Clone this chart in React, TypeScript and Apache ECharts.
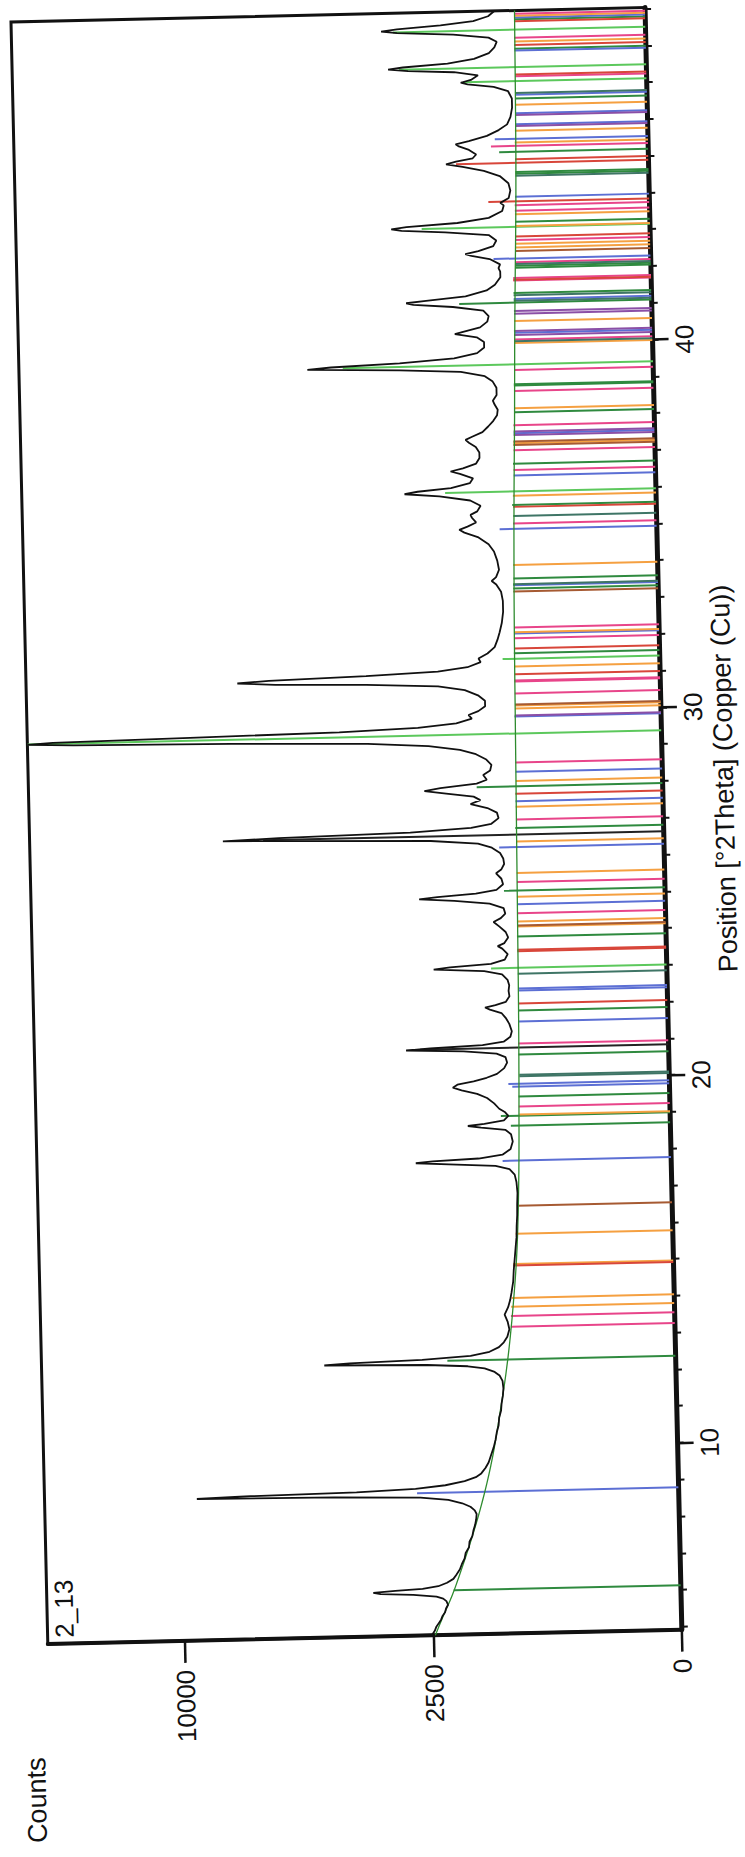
import React, { useEffect, useRef } from "react";
import * as echarts from "echarts";

// Diffractogram 2_13, Cu radiation, square-root intensity scale.
const TWO_THETA_MIN = 4.93;
const TWO_THETA_MAX = 49.04;
const COUNTS_MAX = 16280;

const X_LABELS = [10, 20, 30, 40];
const X_MINOR_TICKS = [5, 6, 7, 8, 9, 10, 11, 12, 13, 14, 15, 16, 17, 18, 19, 20, 21, 22, 23, 24, 25, 26, 27, 28, 29, 30, 31, 32, 33, 34, 35, 36, 37, 38, 39, 40, 41, 42, 43, 44, 45, 46, 47, 48, 49];
const Y_LABELS = [0, 2500, 10000];

// Measured scan: [°2θ, counts]
const SCAN: [number, number][] = [
  [4.93, 2530], [5.05, 2470], [5.15, 2440], [5.25, 2390], [5.35, 2340], [5.45, 2310], [5.55, 2260], [5.65, 2240], [5.75, 2200], [5.85, 2230],
  [5.92, 2290], [5.98, 2420], [6.04, 2900], [6.08, 3650], [6.12, 3830], [6.16, 3300], [6.2, 2700], [6.26, 2380], [6.35, 2210], [6.45, 2090],
  [6.55, 2040], [6.7, 1970], [6.85, 1930], [7.0, 1880], [7.15, 1860], [7.3, 1800], [7.45, 1790], [7.6, 1740], [7.75, 1720], [7.9, 1690],
  [8.05, 1670], [8.2, 1660], [8.3, 1690], [8.4, 1760], [8.5, 1900], [8.6, 2150], [8.68, 2700], [8.74, 4800], [8.78, 9400], [8.82, 7800],
  [8.86, 4200], [8.92, 2800], [9.0, 2200], [9.1, 1850], [9.2, 1660], [9.3, 1570], [9.45, 1500], [9.6, 1450], [9.8, 1410], [10.0, 1370],
  [10.2, 1340], [10.4, 1320], [10.6, 1290], [10.8, 1280], [11.0, 1250], [11.2, 1240], [11.4, 1220], [11.6, 1210], [11.8, 1220], [11.95, 1260],
  [12.05, 1330], [12.15, 1480], [12.22, 1750], [12.28, 2500], [12.33, 5000], [12.37, 4300], [12.42, 2600], [12.5, 1700], [12.6, 1400], [12.72, 1260],
  [12.85, 1190], [13.0, 1140], [13.2, 1110], [13.4, 1130], [13.6, 1170], [13.8, 1120], [14.0, 1090], [14.2, 1070], [14.5, 1045], [14.8, 1035],
  [15.1, 1020], [15.4, 1005], [15.7, 990], [16.0, 985], [16.3, 975], [16.6, 972], [16.9, 965], [17.2, 975], [17.4, 995], [17.55, 1060],
  [17.65, 1250], [17.72, 2000], [17.77, 2640], [17.81, 2300], [17.86, 1500], [17.95, 1150], [18.1, 1040], [18.3, 1010], [18.5, 1030], [18.62, 1100],
  [18.7, 1450], [18.75, 1660], [18.8, 1400], [18.88, 1120], [19.0, 1060], [19.1, 1100], [19.2, 1180], [19.35, 1250], [19.5, 1350], [19.62, 1500],
  [19.72, 1750], [19.8, 1900], [19.88, 1820], [19.96, 1550], [20.05, 1350], [20.15, 1200], [20.3, 1100], [20.45, 1060], [20.6, 1080], [20.7, 1200],
  [20.78, 1700], [20.84, 2790], [20.88, 2300], [20.94, 1400], [21.02, 1100], [21.15, 1010], [21.3, 990], [21.5, 1020], [21.65, 1060], [21.8, 1120],
  [21.9, 1280], [21.96, 1350], [22.02, 1200], [22.1, 1060], [22.25, 1010], [22.4, 1020], [22.55, 1010], [22.7, 1030], [22.85, 1100], [22.95, 1350],
  [23.02, 2200], [23.07, 1900], [23.14, 1250], [23.25, 1060], [23.4, 1020], [23.55, 1090], [23.62, 1150], [23.7, 1060], [23.85, 1010], [24.0, 1040],
  [24.15, 1120], [24.28, 1200], [24.38, 1100], [24.5, 1040], [24.65, 1060], [24.78, 1250], [24.88, 1800], [24.94, 2450], [24.99, 2100], [25.06, 1450],
  [25.15, 1150], [25.3, 1060], [25.45, 1080], [25.6, 1150], [25.7, 1080], [25.85, 1040], [26.0, 1050], [26.15, 1090], [26.3, 1200], [26.42, 1400],
  [26.52, 2200], [26.6, 5500], [26.64, 7870], [26.69, 6000], [26.76, 2600], [26.85, 1500], [26.95, 1200], [27.1, 1100], [27.25, 1120], [27.38, 1250],
  [27.5, 1500], [27.6, 1350], [27.7, 1450], [27.8, 1900], [27.88, 2300], [27.95, 2000], [28.05, 1400], [28.15, 1250], [28.28, 1300], [28.4, 1200],
  [28.55, 1180], [28.7, 1250], [28.85, 1400], [28.98, 1650], [29.1, 2200], [29.2, 3500], [29.28, 7500], [29.34, 14000], [29.38, 16280], [29.42, 15000],
  [29.47, 9000], [29.53, 4200], [29.6, 2400], [29.7, 1700], [29.82, 1450], [29.92, 1500], [30.02, 1350], [30.15, 1250], [30.3, 1250], [30.45, 1350],
  [30.6, 1550], [30.72, 2000], [30.8, 3500], [30.86, 6000], [30.92, 7240], [30.97, 6200], [31.04, 3500], [31.12, 2000], [31.22, 1500], [31.35, 1300],
  [31.45, 1330], [31.58, 1200], [31.75, 1100], [31.95, 1060], [32.15, 1030], [32.4, 1000], [32.7, 980], [33.0, 980], [33.25, 1000], [33.45, 1060],
  [33.55, 1120], [33.65, 1060], [33.85, 1020], [34.1, 1040], [34.35, 1080], [34.55, 1150], [34.75, 1300], [34.88, 1500], [34.96, 1580], [35.04, 1450],
  [35.15, 1320], [35.28, 1380], [35.36, 1400], [35.45, 1300], [35.6, 1250], [35.75, 1400], [35.88, 1900], [35.96, 2560], [36.02, 2300], [36.1, 1700],
  [36.22, 1400], [36.35, 1350], [36.48, 1550], [36.55, 1700], [36.63, 1500], [36.75, 1300], [36.9, 1250], [37.05, 1250], [37.2, 1300], [37.32, 1400],
  [37.4, 1450], [37.48, 1350], [37.6, 1200], [37.75, 1120], [37.9, 1050], [38.05, 1000], [38.2, 990], [38.35, 1030], [38.45, 1050], [38.6, 1000],
  [38.8, 1000], [38.98, 1050], [39.12, 1150], [39.25, 1500], [39.33, 2600], [39.4, 4840], [39.45, 4200], [39.52, 2600], [39.62, 1600], [39.75, 1250],
  [39.9, 1150], [40.05, 1150], [40.18, 1250], [40.28, 1580], [40.34, 1450], [40.45, 1200], [40.6, 1100], [40.75, 1080], [40.9, 1150], [41.02, 1600],
  [41.1, 2300], [41.15, 2440], [41.2, 2100], [41.3, 1400], [41.45, 1100], [41.6, 990], [41.8, 920], [41.95, 920], [42.05, 940], [42.15, 920],
  [42.3, 1050], [42.4, 1300], [42.45, 1390], [42.52, 1200], [42.65, 1000], [42.8, 960], [42.95, 1050], [43.05, 1700], [43.12, 2500], [43.17, 2710],
  [43.22, 2400], [43.3, 1500], [43.42, 1050], [43.6, 880], [43.75, 860], [43.82, 900], [43.95, 800], [44.15, 780], [44.35, 800], [44.55, 900],
  [44.7, 1100], [44.82, 1400], [44.9, 1660], [44.97, 1500], [45.05, 1250], [45.15, 1200], [45.28, 1300], [45.38, 1450], [45.44, 1500], [45.52, 1300],
  [45.65, 1050], [45.8, 900], [45.95, 800], [46.15, 760], [46.4, 740], [46.65, 740], [46.85, 780], [46.98, 950], [47.06, 1300], [47.11, 1400],
  [47.18, 1250], [47.3, 1150], [47.4, 1500], [47.46, 2300], [47.51, 2700], [47.56, 2400], [47.64, 1600], [47.75, 1200], [47.9, 1000], [48.05, 930],
  [48.2, 900], [48.32, 1000], [48.42, 1500], [48.5, 2500], [48.55, 2830], [48.6, 2500], [48.68, 1700], [48.78, 1200], [48.9, 1000], [49.04, 920],
];

// Fitted background: [°2θ, counts]
const BACKGROUND: [number, number][] = [
  [4.93, 2460], [5.5, 2280], [6, 2120], [6.5, 1990], [7, 1870], [7.5, 1760], [8, 1660], [8.5, 1570], [9, 1490], [9.5, 1420],
  [10, 1360], [11, 1260], [12, 1170], [13, 1100], [14, 1045], [15, 1000], [16, 970], [17, 950], [18, 935], [19, 925],
  [20, 915], [22, 900], [24, 890], [26, 880], [28, 870], [30, 860], [32, 850], [34, 835], [36, 815], [38, 790],
  [40, 770], [42, 745], [44, 720], [46, 705], [48, 695], [49.04, 690],
];

// Reference pattern sticks per phase: [°2θ, top counts]
const STICKS_LIME: [number, number][] = [
  [23.02, 1250], [29.39, 16280], [31.42, 1000], [35.97, 1800], [39.42, 3900], [43.16, 2110], [47.12, 1360], [47.5, 2480], [48.52, 2580],
];
const STICKS_GREEN: [number, number][] = [
  [6.14, 2090], [12.38, 2110], [18.73, 1030], [19.0, 1160], [19.52, 925], [20.66, 915], [21.86, 905], [23.87, 900], [25.12, 1050], [26.82, 890],
  [27.95, 1400], [31.57, 860], [33.33, 850], [33.6, 845], [35.6, 840], [36.72, 820], [38.12, 790], [38.85, 790], [38.88, 790], [41.1, 1500],
  [41.36, 770], [42.05, 745], [42.1, 745], [43.3, 735], [44.6, 720], [44.65, 720], [45.2, 900], [46.65, 705], [48.0, 700], [48.8, 695],
];
const STICKS_BLUE: [number, number][] = [
  [8.8, 2770], [17.78, 1150], [19.79, 1000], [19.87, 1050], [21.56, 905], [22.4, 900], [22.46, 900], [24.75, 890], [26.3, 1100], [27.55, 880],
  [28.35, 870], [29.85, 870], [32.11, 850], [33.42, 850], [34.95, 1000], [36.4, 815], [37.55, 805], [40.28, 770], [41.2, 770], [42.3, 1000],
  [43.98, 730], [45.55, 950], [45.95, 710], [46.25, 705], [46.75, 705], [47.95, 700], [48.85, 695],
];
const STICKS_ORANGE: [number, number][] = [
  [13.81, 1080], [14.05, 1070], [14.97, 1040], [15.79, 1000], [19.03, 920], [24.14, 890], [24.28, 890], [24.95, 890], [25.6, 885], [26.45, 880],
  [27.4, 880], [28.1, 870], [30.07, 860], [30.15, 860], [31.21, 855], [32.14, 850], [33.97, 845], [35.85, 830], [37.28, 810], [38.23, 790],
  [40.0, 775], [40.6, 770], [42.6, 740], [42.7, 740], [43.18, 735], [43.5, 735], [45.45, 720], [45.77, 715], [46.48, 705], [48.2, 700], [48.9, 695],
];
const STICKS_PINK: [number, number][] = [
  [13.27, 1090], [13.56, 1085], [19.25, 925], [20.96, 915], [24.5, 890], [25.35, 885], [27.05, 880], [28.6, 870], [30.48, 860], [30.8, 860],
  [30.83, 860], [31.98, 850], [32.27, 850], [35.1, 835], [36.55, 815], [37.09, 810], [37.77, 805], [38.7, 790], [39.27, 780], [40.1, 775],
  [41.7, 770], [41.77, 770], [42.2, 745], [42.8, 740], [43.6, 735], [43.75, 735], [45.36, 1000], [47.25, 700], [48.3, 700], [48.95, 695],
];
const STICKS_RED: [number, number][] = [
  [14.93, 1040], [22.05, 905], [23.47, 900], [23.51, 900], [27.75, 880], [31.0, 855], [31.7, 855], [35.55, 830], [41.72, 770], [42.9, 740],
  [43.85, 1050], [44.9, 1500], [45.0, 720], [47.3, 700], [48.1, 700], [48.75, 695],
];
const STICKS_TEAL: [number, number][] = [
  [20.07, 910], [20.11, 910], [22.86, 900], [33.45, 850], [35.3, 830], [40.05, 775], [41.15, 770], [41.3, 770], [42.15, 745], [44.55, 720], [46.8, 705],
];
const STICKS_PURPLE: [number, number][] = [
  [29.88, 865], [37.5, 805], [37.6, 805], [40.22, 775], [40.33, 775], [40.8, 770], [40.87, 770], [45.9, 710], [46.2, 705],
];
const STICKS_BROWN: [number, number][] = [
  [16.55, 975], [24.17, 890], [30.18, 860], [33.25, 850], [37.23, 810], [37.33, 810], [42.5, 740],
];
const STICKS_BLACK: [number, number][] = [[20.85, 2500], [26.64, 6500]];

const PHASES = [
  { color: "#5cc85c", sticks: STICKS_LIME },
  { color: "#2f8a3f", sticks: STICKS_GREEN },
  { color: "#5c6fd4", sticks: STICKS_BLUE },
  { color: "#f5a041", sticks: STICKS_ORANGE },
  { color: "#e8458a", sticks: STICKS_PINK },
  { color: "#d8463a", sticks: STICKS_RED },
  { color: "#3f7566", sticks: STICKS_TEAL },
  { color: "#8b4fa6", sticks: STICKS_PURPLE },
  { color: "#a65a32", sticks: STICKS_BROWN },
  { color: "#222222", sticks: STICKS_BLACK },
];

// Square-root intensity scale
const toAxis = (c: number) => Math.sqrt(c);

const FONT = '"Liberation Sans", Arial, sans-serif';
const INK = "#111111";

// Landscape canvas, rotated onto the page
const LW = 2084;
const LH = 800;
const GRID = { left: 230, top: 81.3, width: 1622.5, height: 634.2 };

export default function App() {
  const ref = useRef<HTMLDivElement | null>(null);

  useEffect(() => {
    if (!ref.current) return;
    const chart = echarts.init(ref.current, undefined, { renderer: "svg" });

    const stickSeries = PHASES.map((ph) => ({
      type: "custom",
      clip: true,
      silent: true,
      data: ph.sticks.map(([p, t]) => [p, toAxis(t)]),
      renderItem: (_params: any, api: any) => {
        const x = api.value(0);
        const top = api.value(1);
        const a = api.coord([x, 0]);
        const b = api.coord([x, top]);
        return {
          type: "line",
          shape: { x1: a[0], y1: a[1], x2: b[0], y2: b[1] },
          style: { stroke: ph.color, lineWidth: 2 },
        };
      },
    }));

    const option: any = {
      animation: false,
      grid: { ...GRID, show: true, borderColor: INK, borderWidth: 3, backgroundColor: "#ffffff" },
      xAxis: [
        {
          type: "value",
          min: TWO_THETA_MIN,
          max: TWO_THETA_MAX,
          position: "bottom",
          axisLine: { show: true, onZero: false, lineStyle: { color: INK, width: 5 } },
          axisTick: { show: true, customValues: X_MINOR_TICKS, length: 6, lineStyle: { color: INK, width: 2 } },
          axisLabel: { customValues: X_LABELS, margin: 19, fontSize: 26, color: INK, fontFamily: FONT },
          splitLine: { show: false },
        },
        {
          type: "value",
          min: TWO_THETA_MIN,
          max: TWO_THETA_MAX,
          position: "bottom",
          axisLine: { show: false },
          axisTick: { show: true, customValues: X_LABELS, length: 16, lineStyle: { color: INK, width: 2.5 } },
          axisLabel: { show: false },
          splitLine: { show: false },
        },
      ],
      yAxis: {
        type: "value",
        min: 0,
        max: toAxis(COUNTS_MAX),
        axisLine: { show: true, onZero: false, lineStyle: { color: INK, width: 4 } },
        axisTick: { show: true, customValues: Y_LABELS.map(toAxis), length: 22, lineStyle: { color: INK, width: 2.5 } },
        axisLabel: {
          customValues: Y_LABELS.map(toAxis),
          formatter: (v: number) => String(Math.round(v * v)),
          margin: 29,
          fontSize: 26,
          color: INK,
          fontFamily: FONT,
        },
        splitLine: { show: false },
      },
      graphic: [
        {
          type: "text",
          x: GRID.left + 6,
          y: GRID.top + 17,
          style: { text: "2_13", font: `26px ${FONT}`, fill: INK, textAlign: "left", textVerticalAlign: "middle", align: "left", verticalAlign: "middle" },
        },
        {
          type: "text",
          x: 74,
          y: 67,
          style: { text: "Counts", font: `27px ${FONT}`, fill: INK, textAlign: "center", textVerticalAlign: "middle", align: "center", verticalAlign: "middle" },
        },
        {
          type: "text",
          x: 1080,
          y: 777,
          style: { text: "Position [°2Theta] (Copper (Cu))", font: `27px ${FONT}`, fill: INK, textAlign: "center", textVerticalAlign: "middle", align: "center", verticalAlign: "middle" },
        },
      ],
      series: [
        ...stickSeries,
        {
          type: "line",
          data: BACKGROUND.map(([p, c]) => [p, toAxis(c)]),
          smooth: true,
          showSymbol: false,
          silent: true,
          clip: true,
          lineStyle: { color: "#2e8b2e", width: 1.3 },
        },
        {
          type: "line",
          data: SCAN.map(([p, c]) => [p, toAxis(c)]),
          showSymbol: false,
          silent: true,
          clip: true,
          lineStyle: { color: INK, width: 1.8 },
        },
      ],
    };

    chart.setOption(option);
    return () => chart.dispose();
  }, []);

  return (
    <div style={{ position: "absolute", left: 0, top: 0, width: 745, height: 1857, overflow: "hidden", background: "#ffffff" }}>
      <div
        ref={ref}
        style={{
          position: "absolute",
          width: LW,
          height: LH,
          left: 348 - LW / 2,
          top: 825 - LH / 2,
          transform: "rotate(-91.3deg)",
          transformOrigin: "50% 50%",
        }}
      />
    </div>
  );
}
